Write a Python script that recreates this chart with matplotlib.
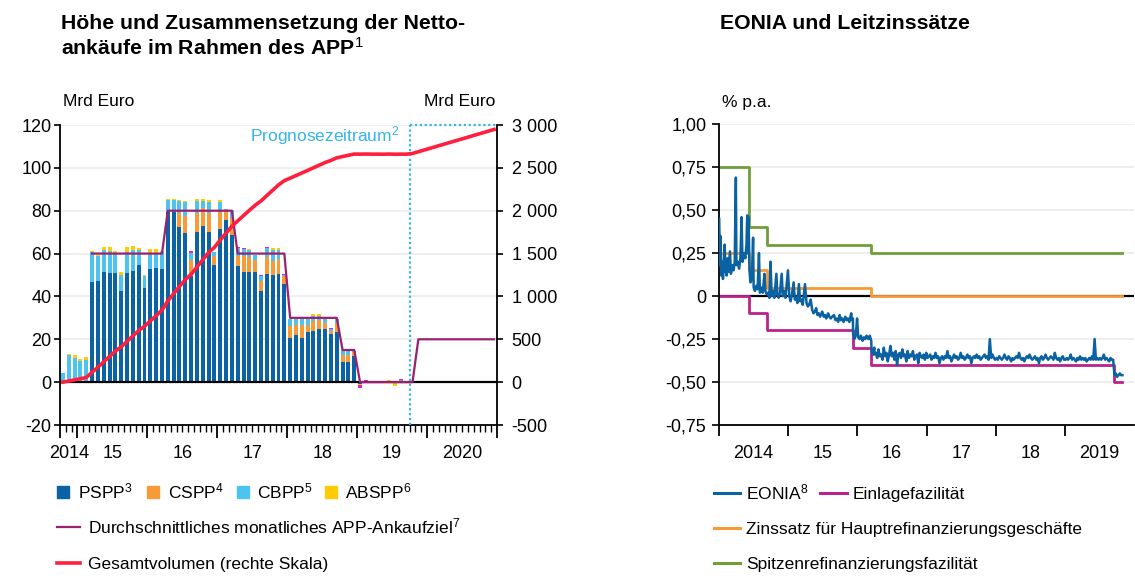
import numpy as np
import pandas as pd
import matplotlib
matplotlib.use('Agg')
import matplotlib.pyplot as plt
from matplotlib.patches import Rectangle
from matplotlib.lines import Line2D

plt.rcParams['font.family'] = ['Liberation Sans', 'DejaVu Sans']
plt.rcParams['mathtext.fontset'] = 'custom'
plt.rcParams['mathtext.rm'] = 'Liberation Sans'
plt.rcParams['mathtext.it'] = 'Liberation Sans:italic'
plt.rcParams['mathtext.bf'] = 'Liberation Sans:bold'

# ---------- data: APP net purchases, Oct 2014 .. Sep 2019 (Mrd Euro) ----------
pspp = [0, 0, 0, 0, 0,
        46.8, 47.3, 51.5, 51.0, 51.0, 42.6, 51.0, 51.9, 54.7, 44.0,
        52.9, 53.3, 52.9, 79.5, 79.5, 72.2, 69.7, 49.7, 70.3, 72.9, 70.3, 54.7,
        71.5, 75.7, 68.7, 54.3, 51.2, 51.5, 51.5, 42.6, 50.5, 50.1, 50.5, 46.0,
        20.8, 21.8, 20.4, 23.6, 24.1, 25.0, 24.6, 22.7, 23.2, 9.6, 9.6, 12.4,
        -0.8, 0, 0, 0, 0.6, 0, -0.5, 0.3, 0]
cspp = [0, 0, 0, 0, 0,
        0, 0, 0, 0, 0, 0, 0, 0, 0, 0,
        0, 0, 0, 0, 0, 6.6, 8.0, 7.4, 8.5, 8.6, 8.5, 4.4,
        8.1, 4.7, 8.0, 4.7, 7.8, 6.8, 5.6, 4.7, 7.8, 6.5, 6.9, 3.6,
        5.5, 5.1, 6.5, 3.3, 4.4, 4.2, 3.1, 1.4, 4.5, 3.3, 3.3, 1.9,
        0, 0, 0, 0, 0, 0, 0, 0, 0]
cbpp = [4.3, 12.7, 11.5, 10.0, 10.4,
        13.8, 11.6, 10.2, 10.3, 9.3, 7.5, 9.8, 9.8, 7.0, 5.6,
        7.4, 7.0, 7.9, 5.4, 5.3, 5.8, 6.3, 3.3, 5.8, 3.1, 5.5, 1.5,
        4.7, 0.5, 3.7, 3.6, 3.1, 3.4, 2.3, 2.3, 4.2, 5.1, 4.3, 0.4,
        3.1, 2.6, 2.6, 2.6, 2.6, 1.9, 1.8, 0.8, 1.8, 1.9, 1.9, 0.3,
        0, 0, 0, 0, 0, 0, 0, 0.5, 0]
abspp = [0.2, 0.5, 1.2, 0.9, 1.4,
         0.6, 0.5, 1.4, 1.8, 1.0, 1.4, 2.3, 1.9, 1.0, 0.5,
         1.9, 1.9, 0.5, 0.5, 0.5, 0.4, 0.3, 0, 0.8, 0.8, 0.8, 0,
         0.8, 0, 0, 0, 0, 0.6, 0, 0, 0, 0.8, 0.8, 0,
         0, 0, 0, 0, 0.5, 0.5, 0, 0, 0, 0, 0, 0,
         -0.5, 0, 0, 0, 0, 1.0, -1.5, 0, 0]
sonst = [0, 0, 0, 0, 0,
         0, 0, 0, 0, 0, 0, 0, 0, 0, 0,
         0, 0, 0, 0, 0, 0, 0, 0.6, 0, 0, 0, 0,
         0, 0, 0, 0.5, 0.5, 0, 0, 0.3, 0.5, 0, 0, 0.5,
         0, 0, 0, 0, 0, 0, 0, 0.3, 0, 0, 0, 0,
         -1.5, 1.0, -0.6, 0, 0, 0, 0, 0.5, 0]

# average monthly purchase target, Mar 2015 .. Dec 2020
ziel = [60] * 13 + [80] * 12 + [60] * 9 + [30] * 9 + [15] * 3 + [0] * 10 + [20] * 14
ziel_start = 5

# total volume (right scale), Oct 2014 .. Dec 2020
gesamt = [0, 13, 27, 40, 54, 115, 174, 237, 300, 361, 412, 475, 539, 602, 652,
          714, 776, 840, 947, 1032, 1117, 1197, 1258, 1343, 1428, 1512, 1573,
          1658, 1739, 1819, 1881, 1943, 2005, 2064, 2114, 2177, 2239, 2301, 2351,
          2380, 2410, 2440, 2470, 2501, 2532, 2562, 2587, 2617, 2632, 2647, 2661,
          2660, 2661, 2660, 2660, 2659, 2661, 2659, 2660, 2660,
          2668, 2688, 2708, 2728, 2748, 2768, 2788, 2808, 2828, 2848, 2868,
          2888, 2908, 2928, 2948]

jahre_links = ['2014', '15', '16', '17', '18', '19', '2020']

# ---------- data: EONIA and key rates (% p.a.) ----------
# Jan 2014 .. Mar 2016, read point by point
eonia_dates = [
    '2014-01-02', '2014-01-06', '2014-01-09', '2014-01-13', '2014-01-17', '2014-01-22', '2014-01-31',
    '2014-02-04', '2014-02-10', '2014-02-14', '2014-02-19', '2014-02-28', '2014-03-05', '2014-03-12',
    '2014-03-19', '2014-03-25', '2014-03-31', '2014-04-03', '2014-04-10', '2014-04-17', '2014-04-24',
    '2014-04-30', '2014-05-05', '2014-05-12', '2014-05-20', '2014-05-26', '2014-05-30', '2014-06-03',
    '2014-06-06', '2014-06-11', '2014-06-16', '2014-06-23', '2014-06-30', '2014-07-03', '2014-07-10',
    '2014-07-17', '2014-07-24', '2014-07-31', '2014-08-05', '2014-08-12', '2014-08-20', '2014-08-29',
    '2014-09-03', '2014-09-10', '2014-09-17', '2014-09-24', '2014-09-30', '2014-10-06', '2014-10-13',
    '2014-10-20', '2014-10-31', '2014-11-05', '2014-11-12', '2014-11-19', '2014-11-28', '2014-12-04',
    '2014-12-11', '2014-12-18', '2014-12-31',
    '2015-01-07', '2015-01-14', '2015-01-21', '2015-01-30', '2015-02-05', '2015-02-12', '2015-02-19',
    '2015-02-27', '2015-03-05', '2015-03-12', '2015-03-19', '2015-03-31', '2015-04-08', '2015-04-15',
    '2015-04-22', '2015-04-30', '2015-05-08', '2015-05-15', '2015-05-22', '2015-05-29', '2015-06-05',
    '2015-06-12', '2015-06-19', '2015-06-30', '2015-07-08', '2015-07-15', '2015-07-22', '2015-07-31',
    '2015-08-07', '2015-08-14', '2015-08-21', '2015-08-31', '2015-09-08', '2015-09-15', '2015-09-22',
    '2015-09-30', '2015-10-07', '2015-10-14', '2015-10-21', '2015-10-30', '2015-11-06', '2015-11-13',
    '2015-11-20', '2015-11-30', '2015-12-04', '2015-12-09', '2015-12-10', '2015-12-17', '2015-12-24',
    '2015-12-31',
    '2016-01-06', '2016-01-13', '2016-01-20', '2016-01-29', '2016-02-05', '2016-02-12', '2016-02-19',
    '2016-02-29', '2016-03-07', '2016-03-15', '2016-03-16', '2016-03-23', '2016-03-31']
eonia_values = [
    0.45, 0.18, 0.35, 0.12, 0.20, 0.10, 0.30,
    0.15, 0.12, 0.22, 0.14, 0.26, 0.13, 0.18,
    0.15, 0.20, 0.69, 0.18, 0.20, 0.16, 0.22,
    0.46, 0.20, 0.25, 0.22, 0.30, 0.47, 0.25,
    0.46, 0.15, 0.08, 0.10, 0.34, 0.05, 0.03,
    0.06, 0.04, 0.25, 0.02, 0.05, 0.02, 0.13,
    0.03, 0.01, 0.02, -0.01, 0.20, 0.00, 0.03,
    -0.01, 0.13, 0.01, -0.01, 0.02, 0.13, 0.00,
    0.03, -0.01, 0.15,
    0.00, -0.03, 0.01, 0.08, -0.02, -0.01, -0.04,
    0.07, -0.03, -0.02, -0.05, 0.07, -0.04, -0.06,
    -0.05, -0.02, -0.08, -0.10, -0.09, -0.07, -0.11,
    -0.10, -0.12, -0.09, -0.12, -0.11, -0.13, -0.10,
    -0.12, -0.13, -0.12, -0.11, -0.14, -0.13, -0.15,
    -0.11, -0.14, -0.13, -0.15, -0.12, -0.14, -0.13,
    -0.15, -0.10, -0.14, -0.13, -0.22, -0.25, -0.23,
    -0.13,
    -0.24, -0.25, -0.23, -0.26, -0.24, -0.25, -0.23,
    -0.25, -0.23, -0.26, -0.31, -0.34, -0.30]

# weekly readings from 1 Apr 2016 to 1 Nov 2019
eonia_weekly_start = '2016-04-01'
eonia_weekly = [
    -0.34, -0.33, -0.36, -0.31, -0.35, -0.34, -0.37, -0.30, -0.35, -0.33, -0.38, -0.34, -0.29,
    -0.35, -0.33, -0.37, -0.32, -0.40, -0.34, -0.33, -0.36, -0.31, -0.35, -0.34, -0.38, -0.32,
    -0.36, -0.34, -0.35, -0.32, -0.37, -0.35, -0.34, -0.39, -0.33, -0.35, -0.36, -0.34, -0.37, -0.33,
    -0.36, -0.35, -0.34, -0.37, -0.35, -0.36, -0.33, -0.36, -0.35, -0.39, -0.36, -0.35, -0.37,
    -0.35, -0.36, -0.32, -0.36, -0.35, -0.38, -0.36, -0.34, -0.36, -0.35, -0.37, -0.36, -0.33,
    -0.36, -0.35, -0.37, -0.36, -0.34, -0.36, -0.35, -0.39, -0.36, -0.35, -0.36, -0.34, -0.36,
    -0.35, -0.37, -0.36, -0.35, -0.34, -0.36, -0.35, -0.37, -0.25, -0.36, -0.34, -0.36, -0.37,
    -0.36, -0.37, -0.35, -0.36, -0.37, -0.36, -0.34, -0.36, -0.37, -0.35, -0.36, -0.38, -0.36,
    -0.37, -0.36, -0.35, -0.36, -0.33, -0.36, -0.37, -0.36, -0.38, -0.36, -0.35, -0.36, -0.34,
    -0.36, -0.37, -0.36, -0.35, -0.37, -0.36, -0.39, -0.36, -0.35, -0.37, -0.36, -0.34, -0.36,
    -0.37, -0.36, -0.35, -0.36, -0.37, -0.33, -0.36, -0.37, -0.36, -0.38, -0.36, -0.35, -0.37,
    -0.37, -0.36, -0.37, -0.36, -0.34, -0.37, -0.36, -0.37, -0.38, -0.36, -0.37, -0.35, -0.37,
    -0.36, -0.37, -0.36, -0.38, -0.37, -0.36, -0.37, -0.35, -0.37, -0.25, -0.37, -0.36, -0.37,
    -0.36, -0.37, -0.36, -0.34, -0.37, -0.36, -0.37, -0.38, -0.36, -0.37, -0.37,
    -0.46, -0.45, -0.47, -0.46, -0.45, -0.46, -0.46]

mro_dates = ['2014-01-01', '2014-06-11', '2014-09-10', '2016-03-16', '2019-10-31']
mro_values = [0.25, 0.15, 0.05, 0.00, 0.00]
einlage_dates = ['2014-01-01', '2014-06-11', '2014-09-10', '2015-12-09', '2016-03-16', '2019-09-18', '2019-10-31']
einlage_values = [0.00, -0.10, -0.20, -0.30, -0.40, -0.50, -0.50]
spitzen_dates = ['2014-01-01', '2014-06-11', '2014-09-10', '2016-03-16', '2019-10-31']
spitzen_values = [0.75, 0.40, 0.30, 0.25, 0.25]

jahre_rechts = ['2014', '15', '16', '17', '18', '2019']

# ---------- colours ----------
c_pspp, c_cspp, c_cbpp, c_abspp, c_sonst = '#0b63a5', '#f99a38', '#4dc3f0', '#ffcb05', '#e81fc8'
c_rot, c_ziel, c_prog = '#ff1f3d', '#9b2170', '#37b4e6'
c_eonia, c_einlage, c_mro, c_spitzen = '#0a62a3', '#b9248c', '#f99a38', '#6f9f3a'
c_grid = '#ebebeb'

W, H = 1135, 579
fig = plt.figure(figsize=(W / 100, H / 100), dpi=100)


def fx(px):
    return px / W


def fy(py):
    return 1 - py / H


fs = 12.5     # labels, legend
fn = 13       # numbers on the axes
ft = 15.3     # titles

# ================= left chart =================
ax1 = fig.add_axes([fx(60), fy(425), fx(437), 300 / H])
ax1r = ax1.twinx()

n = len(pspp)
x = np.arange(n) + 0.5
pos_bottom = np.zeros(n)
neg_bottom = np.zeros(n)
for vals, col in [(pspp, c_pspp), (cspp, c_cspp), (cbpp, c_cbpp), (abspp, c_abspp), (sonst, c_sonst)]:
    v = np.array(vals, dtype=float)
    bottom = np.where(v >= 0, pos_bottom, neg_bottom)
    ax1.bar(x, v, 0.68, bottom=bottom, color=col, linewidth=0, zorder=2)
    pos_bottom = pos_bottom + np.clip(v, 0, None)
    neg_bottom = neg_bottom + np.clip(v, None, 0)

xz = np.arange(len(ziel)) + ziel_start + 0.5
ax1.plot(xz, ziel, color=c_ziel, lw=1.6, zorder=3)
ax1.axhline(0, color='black', lw=1.6, zorder=2.5)

ax1.set_xlim(0, 75)
ax1.set_ylim(-20, 120)
ax1.set_yticks(range(-20, 121, 20))
ax1.set_yticklabels([str(v) for v in range(-20, 121, 20)], fontsize=fn)
for yv in range(20, 121, 20):
    ax1.axhline(yv, color=c_grid, lw=1.2, zorder=0)

ax1.set_xticks([0, 3, 15, 27, 39, 51, 63, 75])
ax1.set_xticks(np.arange(0, 76), minor=True)
ax1.set_xticklabels([])
ax1.tick_params(axis='x', which='major', length=9, width=1.3, direction='out')
ax1.tick_params(axis='x', which='minor', length=5, width=1.0, direction='out')
ax1.tick_params(axis='y', length=4.5, width=1.2, pad=1.5)
for xl, lab in zip([1.5, 9, 21, 33, 45, 57, 69], jahre_links):
    ax1.text(xl, -0.095, lab, transform=ax1.get_xaxis_transform(), ha='center', va='center', fontsize=fn)

for s in ['top', 'right']:
    ax1.spines[s].set_visible(False)
ax1.spines['left'].set_linewidth(1.3)
ax1.spines['bottom'].set_linewidth(1.3)

# forecast box
ax1.plot([60, 60], [-20, 120], color=c_prog, lw=1.6, ls=(0, (1, 1.2)), zorder=4, clip_on=False)
ax1.plot([60, 75], [120, 120], color=c_prog, lw=1.6, ls=(0, (1, 1.2)), zorder=4, clip_on=False)
ax1.text(58.3, 112.3, 'Prognosezeitraum$^{2}$', color=c_prog, ha='right', va='baseline', fontsize=fs)

xg = np.arange(len(gesamt)) + 0.5
ax1r.plot(xg, gesamt, color=c_rot, lw=2.6, zorder=5)
ax1r.set_ylim(-500, 3000)
ax1r.set_yticks(range(-500, 3001, 500))
ax1r.set_yticklabels(['-500', '0', '500', '1 000', '1 500', '2 000', '2 500', '3 000'], fontsize=fn)
ax1r.tick_params(axis='y', length=4.5, width=1.2, pad=6)
for s in ['top', 'left', 'bottom']:
    ax1r.spines[s].set_visible(False)
ax1r.spines['right'].set_linewidth(1.3)

fig.text(fx(63), fy(102), 'Mrd Euro', fontsize=fs, va='center', ha='left')
fig.text(fx(495), fy(102), 'Mrd Euro', fontsize=fs, va='center', ha='right')
fig.text(fx(61), fy(29), 'Höhe und Zusammensetzung der Netto-', fontsize=ft, fontweight='bold', va='baseline')
fig.text(fx(61), fy(55), 'ankäufe im Rahmen des APP$^{1}$', fontsize=ft, fontweight='bold', va='baseline')

# ================= right chart =================
ax2 = fig.add_axes([fx(719), fy(425), fx(415), 300.7 / H])
ed = list(pd.to_datetime(eonia_dates)) + list(pd.date_range(eonia_weekly_start, periods=len(eonia_weekly), freq='7D'))
ev = eonia_values + eonia_weekly
ax2.axhline(0, color='black', lw=1.6, zorder=1)
for yv in [-0.75, -0.5, -0.25, 0.25, 0.5, 0.75, 1.0]:
    ax2.axhline(yv, color=c_grid, lw=1.2, zorder=0)
ax2.step(pd.to_datetime(spitzen_dates), spitzen_values, where='post', color=c_spitzen, lw=2.0, zorder=2)
ax2.step(pd.to_datetime(mro_dates), mro_values, where='post', color=c_mro, lw=2.0, zorder=2)
ax2.step(pd.to_datetime(einlage_dates), einlage_values, where='post', color=c_einlage, lw=2.0, zorder=2)
ax2.plot(ed, ev, color=c_eonia, lw=1.8, zorder=3)

ax2.set_xlim(pd.Timestamp('2014-01-01'), pd.Timestamp('2020-01-01'))
ax2.set_ylim(-0.75, 1.0)
yt = [-0.75, -0.5, -0.25, 0, 0.25, 0.5, 0.75, 1.0]
ax2.set_yticks(yt)
ax2.set_yticklabels(['-0,75', '-0,50', '-0,25', '0', '0,25', '0,50', '0,75', '1,00'], fontsize=fn)
ax2.set_xticks(pd.to_datetime(['2014-01-01', '2015-01-01', '2016-01-01', '2017-01-01', '2018-01-01', '2019-01-01']))
ax2.set_xticklabels([])
ax2.tick_params(axis='x', length=8, width=1.3, direction='out')
ax2.tick_params(axis='y', length=5, width=1.2, pad=4)
for yr, lab in zip(range(2014, 2020), jahre_rechts):
    ax2.text(pd.Timestamp(f'{yr}-07-02'), -0.095, lab, transform=ax2.get_xaxis_transform(),
             ha='center', va='center', fontsize=fn)
for s in ['top', 'right']:
    ax2.spines[s].set_visible(False)
ax2.spines['left'].set_linewidth(1.3)
ax2.spines['bottom'].set_linewidth(1.3)

fig.text(fx(722), fy(102), '% p.a.', fontsize=fs, va='center', ha='left')
fig.text(fx(720), fy(29), 'EONIA und Leitzinssätze', fontsize=ft, fontweight='bold', va='baseline')

# ================= legends =================


def leg_box(px, py, col, label, tx):
    fig.add_artist(Rectangle((fx(px), fy(py + 6)), 12 / W, 12 / H, color=col, transform=fig.transFigure))
    fig.text(fx(tx), fy(py + 6), label, fontsize=fs, va='baseline')


def leg_line(px, py, col, label, tx, lw=1.6, length=23):
    fig.add_artist(Line2D([fx(px), fx(px + length)], [fy(py), fy(py)], color=col, lw=lw,
                          transform=fig.transFigure))
    fig.text(fx(tx), fy(py + 6), label, fontsize=fs, va='baseline')


leg_box(57, 492, c_pspp, 'PSPP$^{3}$', 78)
leg_box(147, 492, c_cspp, 'CSPP$^{4}$', 168)
leg_box(237, 492, c_cbpp, 'CBPP$^{5}$', 257)
leg_box(325, 492, c_abspp, 'ABSPP$^{6}$', 345)
leg_line(57, 527, c_ziel, 'Durchschnittliches monatliches APP-Ankaufziel$^{7}$', 88)
leg_line(57, 563, c_rot, 'Gesamtvolumen (rechte Skala)', 88, lw=2.6)

leg_line(714, 493, c_eonia, 'EONIA$^{8}$', 746, lw=2.2, length=26)
leg_line(820, 493, c_einlage, 'Einlagefazilität', 853, lw=2.2, length=27)
leg_line(714, 528, c_mro, 'Zinssatz für Hauptrefinanzierungsgeschäfte', 746, lw=2.2, length=26)
leg_line(714, 563, c_spitzen, 'Spitzenrefinanzierungsfazilität', 746, lw=2.2, length=26)

fig.savefig('out.png', dpi=100)
